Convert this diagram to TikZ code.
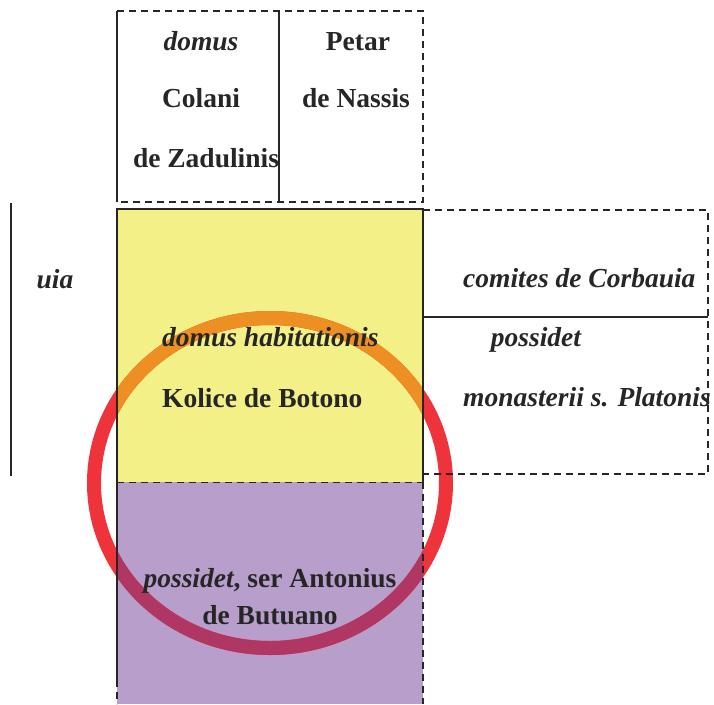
\documentclass[tikz,border=0pt]{standalone}
\usepackage{fontspec}
\setmainfont{Liberation Serif}
\definecolor{hausgelb}{RGB}{244,240,136}
\definecolor{lila}{RGB}{184,158,203}
\definecolor{ringrot}{RGB}{238,51,58}
\definecolor{ringorange}{RGB}{238,143,36}
\definecolor{ringlila}{RGB}{176,55,100}
\tikzset{
  txt/.style={font=\fontsize{27.5}{33}\selectfont\bfseries, inner sep=0pt, text=black!85},
  grenze/.style={line width=1.6pt, black!85},
  strich/.style={grenze, dash pattern=on 7pt off 5pt},
  ring/.style={line width=14pt}
}
\begin{document}
\begin{tikzpicture}[x=1pt, y=-1pt]
\useasboundingbox (0,0) rectangle (714,704);

% Flaechen
\fill[hausgelb] (117,209) rectangle (423,482);
\fill[lila] (117,482) rectangle (423,704);

% Ring
\draw[ring, ringrot] (270,483) ellipse [x radius=176, y radius=165];
\begin{scope}
\clip (117,209) rectangle (423,482);
\draw[ring, ringorange] (270,483) ellipse [x radius=176, y radius=165];
\end{scope}
\begin{scope}
\clip (117,482) rectangle (423,704);
\draw[ring, ringlila] (270,483) ellipse [x radius=176, y radius=165];
\end{scope}

% obere Parzellen
\draw[strich] (117,11) -- (423,11) -- (423,202) -- (117,202);
\draw[grenze] (117,11) -- (117,202);
\draw[grenze] (279,11) -- (279,202);

% Haus
\draw[grenze] (117,482) -- (117,209) -- (423,209) -- (423,482);
\draw[strich, line width=1pt] (117,482) -- (423,482);
\draw[grenze] (117,482) -- (117,680);
\draw[strich] (117,680) -- (117,704);
\draw[strich] (423,482) -- (423,704);

% rechte Parzellen
\draw[strich] (423,210) -- (708,210) -- (708,474) -- (423,474);
\draw[grenze] (423,317) -- (708,317);

% Strasse
\draw[grenze] (11,203) -- (11,476);

% Texte
\node[txt, anchor=base] (domus) at (201,50) {\itshape domus};
\node[txt, anchor=base] (Colani) at (201,107) {Colani};
\node[txt, anchor=base] (Zadulinis) at (206,167) {de Zadulinis};
\node[txt, anchor=base] (Petar) at (358,50) {Petar};
\node[txt, anchor=base] (Nassis) at (356,107) {de Nassis};
\node[txt, anchor=base] (uia) at (55,288) {\itshape uia};
\node[txt, anchor=base west] (comites) at (463,287) {\itshape comites de Corbauia};
\node[txt, anchor=base] (possidetR) at (536,346) {\itshape possidet};
\node[txt, anchor=base west] (monasterii) at (463,406) {\itshape monasterii s. Platonis};
\node[txt, anchor=base west] (habitationis) at (162,346) {\itshape domus habitationis};
\node[txt, anchor=base west] (Kolice) at (162,407) {Kolice de Botono};
\node[txt, anchor=base] (Antonius) at (270,587) {\textit{possidet}, ser Antonius};
\node[txt, anchor=base] (Butuano) at (270,624) {de Butuano};

\end{tikzpicture}
\end{document}
